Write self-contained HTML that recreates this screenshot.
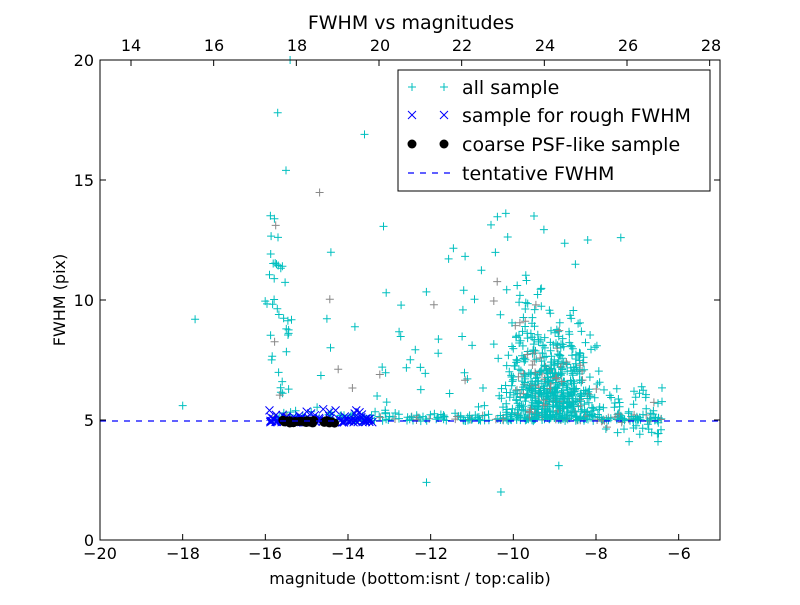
<!DOCTYPE html>
<html><head><meta charset="utf-8"><style>
body{margin:0;background:#fff}
svg text{font-family:"DejaVu Sans","Liberation Sans",sans-serif}
</style></head><body>
<svg id="s" width="800" height="600" xmlns="http://www.w3.org/2000/svg">
<rect width="800" height="600" fill="#fff"/>
<g id="pts"></g>
<line x1="100" y1="421" x2="720" y2="421" stroke="#0000ff" stroke-width="1.2" stroke-dasharray="6,6"/>
<rect x="100" y="60" width="620" height="480" fill="none" stroke="#000" stroke-width="1"/>
<g id="ticks" stroke="#000" stroke-width="1"></g>
<g font-size="16" fill="#000" text-anchor="middle">
<text x="100" y="559">−20</text><text x="183" y="559">−18</text><text x="265" y="559">−16</text><text x="348" y="559">−14</text><text x="431" y="559">−12</text><text x="513" y="559">−10</text><text x="596" y="559">−8</text><text x="679" y="559">−6</text>
<text x="131" y="51">14</text><text x="214" y="51">16</text><text x="297" y="51">18</text><text x="380" y="51">20</text><text x="462" y="51">22</text><text x="545" y="51">24</text><text x="628" y="51">26</text><text x="711" y="51">28</text>
</g>
<g font-size="16" fill="#000" text-anchor="end">
<text x="94" y="546">0</text><text x="94" y="426">5</text><text x="94" y="306">10</text><text x="94" y="186">15</text><text x="94" y="66">20</text>
</g>
<text x="410" y="584" font-size="16" text-anchor="middle">magnitude (bottom:isnt / top:calib)</text>
<text x="411" y="29" font-size="19" text-anchor="middle">FWHM vs magnitudes</text>
<text transform="translate(65,300) rotate(-90)" font-size="16" text-anchor="middle">FWHM (pix)</text>
<rect x="398" y="70" width="312" height="121" fill="#fff" stroke="#000" stroke-width="1"/>
<g stroke="#00bfbf" stroke-width="1"><path d="M408 87h8M412 83v8M440 87h8M444 83v8"/></g>
<g stroke="#0000ff" stroke-width="1"><path d="M408 111l8 8M416 111l-8 8M440 111l8 8M448 111l-8 8"/></g>
<circle cx="412" cy="144" r="4.5" fill="#000"/><circle cx="444" cy="144" r="4.5" fill="#000"/>
<line x1="406" y1="173" x2="450" y2="173" stroke="#0000ff" stroke-width="1.2" stroke-dasharray="6,6" stroke-dashoffset="-2"/>
<g font-size="19" fill="#000"><text x="462" y="94">all sample</text><text x="462" y="122">sample for rough FWHM</text><text x="462" y="151">coarse PSF-like sample</text><text x="462" y="180">tentative FWHM</text></g>
</svg>
<script>
(function(){
var s=12345;function r(){s=(s*1103515245+12345)%2147483648;return s/2147483648;}
function n(){return (r()+r()+r()-1.5)*1.4;}
function X(x){return 100+(x+20)*41.333;}function Y(y){return 540-y*24;}
var h='';
function plus(x,y,c){var px=X(x),py=Y(y);h+='<path d="M'+(px-4).toFixed(1)+' '+py.toFixed(1)+'h8M'+px.toFixed(1)+' '+(py-4).toFixed(1)+'v8" stroke="'+c+'" stroke-width="1" fill="none"/>';}
function cr(x,y){var px=X(x),py=Y(y);h+='<path d="M'+(px-4)+' '+(py-4)+'l8 8M'+(px+4)+' '+(py-4)+'l-8 8" stroke="#0000ff" stroke-width="1" fill="none"/>';}
function col(){return r()<0.12?'#888':'#00bfbf';}
var i,x,y;
for(i=0;i<260;i++){x=-15.8+r()*9.4;y=4.95+Math.abs(n())*0.25;plus(x,y,col());}
for(i=0;i<380;i++){x=-8.9+n()*0.55;y=5+Math.abs(n())*2.4;plus(x,y,col());}
for(i=0;i<140;i++){x=-9.7+n()*0.45;y=5+Math.abs(n())*3.6;plus(x,y,col());}
for(i=0;i<50;i++){x=-8+r()*1.6;y=4.4+r()*2.2;plus(x,y,col());}
for(i=0;i<40;i++){x=-15.7+n()*0.2;y=6+r()*8;plus(x,y,col());}
for(i=0;i<60;i++){x=-15+r()*7;y=5.5+r()*(r()<0.6?5:9);plus(x,y,col());}
for(i=0;i<40;i++){x=-11.5+r()*3;y=5.2+r()*8;plus(x,y,col());}
[[-18,5.6],[-17.7,9.2],[-15.7,17.8],[-15.5,15.4],[-13.6,16.9],[-12.1,2.4],[-10.3,2],[-8.9,3.1],[-15.4,20],[-10,19],[-7.2,4.1],[-6.5,4.1],[-6.5,5.7],[-7.4,12.6],[-8.2,12.5],[-9.5,13.5]].forEach(function(p){plus(p[0],p[1],'#00bfbf');});
for(i=0;i<110;i++){x=-15.9+r()*2.5;y=4.9+Math.abs(n())*0.15;if(r()<0.1)y+=0.3;cr(x,y);}
[[-15.9,5.4],[-14.6,5.45],[-14.3,5.4],[-13.8,5.4],[-14.8,5.2]].forEach(function(p){cr(p[0],p[1]);});
for(i=0;i<40;i++){x=-15.6+r()*1.3;if(x>-14.8&&x<-14.6)continue;y=4.93+n()*0.04;var px=X(x),py=Y(y);h+='<circle cx="'+px.toFixed(1)+'" cy="'+py.toFixed(1)+'" r="4.5" fill="#000"/>';}
document.getElementById('pts').innerHTML=h;
var t='';
[-20,-18,-16,-14,-12,-10,-8,-6].forEach(function(v){var p=X(v);t+='<path d="M'+p+' 540v-6"/>';});
[14,16,18,20,22,24,26,28].forEach(function(v){var p=X(v-33.25);t+='<path d="M'+p+' 60v6"/>';});
[0,5,10,15,20].forEach(function(v){var p=Y(v);t+='<path d="M100 '+p+'h6M720 '+p+'h-6"/>';});
document.getElementById('ticks').innerHTML=t;
})();
</script>
</body></html>
